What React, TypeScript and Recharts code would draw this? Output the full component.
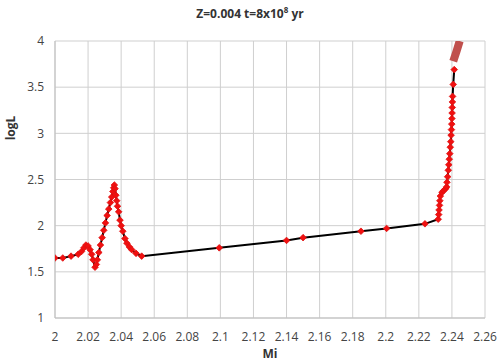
import React from 'react';
import {
  ScatterChart,
  Scatter,
  XAxis,
  YAxis,
  CartesianGrid,
} from 'recharts';

// track points (mass, logL)
const trackMass = [
  2.0, 2.0047, 2.0097, 2.014, 2.016, 2.0175, 2.0187, 2.02, 2.0212, 2.0222, 2.023, 2.0242, 2.025, 2.0256,
  2.0265, 2.0275, 2.0285, 2.0295, 2.0305, 2.0315, 2.0325, 2.0335, 2.0343, 2.035, 2.0355, 2.0359,
  2.0363, 2.0368, 2.0373, 2.0378, 2.0385, 2.0393, 2.04, 2.041, 2.0423, 2.0435, 2.045, 2.0464, 2.049, 2.0524,
  2.0993, 2.14, 2.15, 2.185, 2.2005, 2.2237, 2.2317,
  2.232, 2.2322, 2.2325, 2.2327, 2.233, 2.234, 2.235, 2.2362, 2.2368, 2.237, 2.2374, 2.2378, 2.2381,
  2.2384, 2.2387, 2.239, 2.2393, 2.2395, 2.2397, 2.2399, 2.24, 2.2401, 2.2402, 2.2403, 2.2404, 2.2408, 2.2414,
];
const trackLogL = [
  1.65, 1.65, 1.67, 1.69, 1.72, 1.76, 1.79, 1.78, 1.74, 1.69, 1.63, 1.55, 1.58, 1.63,
  1.71, 1.79, 1.87, 1.95, 2.03, 2.11, 2.18, 2.25, 2.31, 2.37, 2.41, 2.44,
  2.4, 2.33, 2.27, 2.21, 2.15, 2.06, 2.0, 1.94, 1.86, 1.81, 1.77, 1.74, 1.7, 1.67,
  1.76, 1.84, 1.87, 1.94, 1.97, 2.02, 2.07,
  2.12, 2.17, 2.22, 2.27, 2.32, 2.36, 2.38, 2.4, 2.42, 2.47, 2.53, 2.6, 2.66,
  2.72, 2.78, 2.85, 2.91, 2.98, 3.04, 3.1, 3.16, 3.22, 3.28, 3.34, 3.4, 3.53, 3.69,
];

// the thick brownish bit at the top
const tailMass = [2.2408, 2.2428, 2.2447];
const tailLogL = [3.78, 3.89, 4.0];

const xTicks = [2, 2.02, 2.04, 2.06, 2.08, 2.1, 2.12, 2.14, 2.16, 2.18, 2.2, 2.22, 2.24, 2.26];
const yTicks = [1, 1.5, 2, 2.5, 3, 3.5, 4];

const track = trackMass.map((m, i) => ({ m, l: trackLogL[i] }));
const tail = tailMass.map((m, i) => ({ m, l: tailLogL[i] }));

const font = '"Open Sans", "Liberation Sans", sans-serif';
const fmt = (v: number) => String(Number(v.toFixed(2)));

const Diamond = (props: any) => {
  const { cx, cy } = props;
  if (cx == null || cy == null) return <g />;
  const r = 3.3;
  return (
    <polygon
      points={`${cx},${cy - r} ${cx + r},${cy} ${cx},${cy + r} ${cx - r},${cy}`}
      fill="#f01010"
      stroke="#e01010"
      strokeWidth={0.8}
    />
  );
};

const Nothing = () => <g />;

export default function App() {
  return (
    <div style={{ position: 'absolute', left: 0, top: 0, width: 500, height: 362, background: '#fff', fontFamily: font }}>
      <div
        style={{
          position: 'absolute',
          top: 4,
          left: 0,
          width: 500,
          textAlign: 'center',
          fontSize: 12,
          fontWeight: 'bold',
          color: '#333',
        }}
      >
        Z=0.004 t=8x10<sup style={{ fontSize: 8 }}>8</sup> yr
      </div>
      <div
        style={{
          position: 'absolute',
          left: 10,
          top: 128,
          transform: 'translate(-50%, -50%) rotate(-90deg)',
          fontSize: 12,
          fontWeight: 'bold',
          color: '#333',
        }}
      >
        logL
      </div>
      <ScatterChart width={500} height={362} margin={{ top: 41, right: 15, bottom: 0, left: 0 }}>
        <CartesianGrid stroke="#cfcfcf" strokeWidth={1} />
        <XAxis
          type="number"
          dataKey="m"
          domain={[2, 2.26]}
          ticks={xTicks}
          tickFormatter={fmt}
          interval={0}
          height={44}
          axisLine={{ stroke: '#bfbfbf' }}
          tickLine={false}
          tickSize={0}
          tickMargin={14}
          tick={{ fontSize: 12, fill: '#444', fontFamily: font }}
          allowDataOverflow
          label={{ value: 'Mi', position: 'insideBottom', offset: 4, fontSize: 12, fontWeight: 'bold', fill: '#333', fontFamily: font }}
        />
        <YAxis
          type="number"
          dataKey="l"
          domain={[1, 4]}
          ticks={yTicks}
          tickFormatter={fmt}
          interval={0}
          width={55}
          axisLine={{ stroke: '#bfbfbf' }}
          tickLine={false}
          tickSize={0}
          tickMargin={11}
          tick={{ fontSize: 12, fill: '#444', fontFamily: font }}
          allowDataOverflow
        />
        <Scatter
          data={tail}
          line={{ stroke: '#c0504d', strokeWidth: 8 }}
          shape={Nothing}
          isAnimationActive={false}
        />
        <Scatter
          data={track}
          line={{ stroke: '#000', strokeWidth: 2 }}
          shape={Diamond}
          isAnimationActive={false}
        />
      </ScatterChart>
    </div>
  );
}
